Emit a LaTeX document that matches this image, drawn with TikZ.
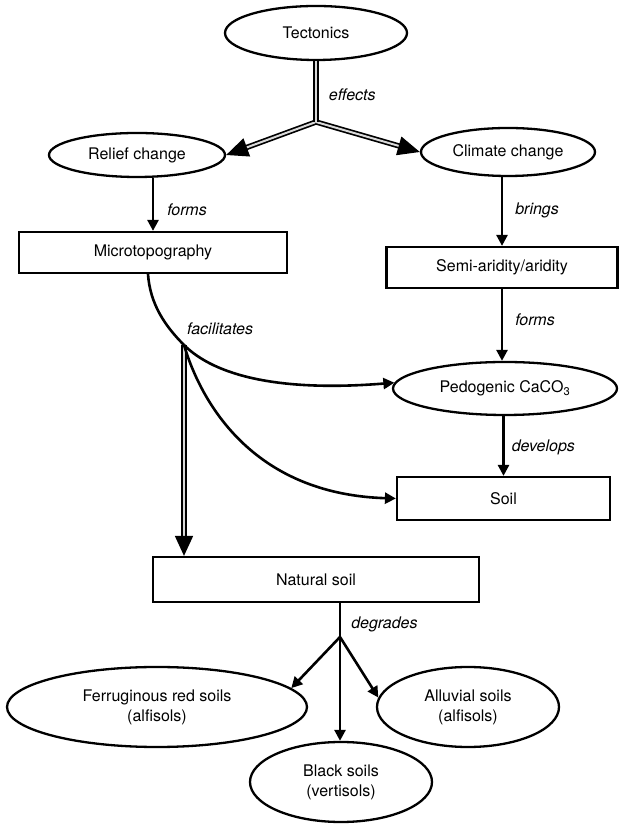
\documentclass[tikz,border=0pt]{standalone}
\usepackage{fontspec}
\setmainfont{TeX Gyre Heros}
\usetikzlibrary{positioning, shapes.geometric, arrows.meta}

\begin{document}
\begin{tikzpicture}[x=1pt, y=1pt,
    every node/.style={font=\fontsize{16}{20}\selectfont},
    bx/.style={draw, line width=2.2pt, inner sep=0pt, align=center},
    ov/.style={draw, ellipse, line width=2.3pt, inner sep=0pt, align=center},
    lb/.style={font=\fontsize{16}{20}\selectfont\itshape, inner sep=0pt},
    ar/.style={line width=2.6pt, -{Triangle[length=11pt, width=11pt]}},
    dbl/.style={double=gray!30, double distance=2pt, line width=1.7pt}]
  \useasboundingbox (0,0) rectangle (618,824);
  % causes
  \node[ov, minimum width=182pt, minimum height=54pt] (tec) at (316,791) {Tectonics};
  \node[ov, minimum width=176pt, minimum height=44pt] (rel) at (137,669) {Relief change};
  \node[ov, minimum width=174pt, minimum height=48pt] (cli) at (508,672) {Climate change};
  \node[bx, minimum width=268pt, minimum height=41pt] (mic) at (153,571.5) {Microtopography};
  \node[bx, minimum width=231pt, minimum height=41pt] (sem) at (502,556.5) {Semi-aridity/aridity};
  \node[ov, minimum width=224pt, minimum height=53pt] (ped) at (505,435.5) {Pedogenic CaCO\textsubscript{3}};
  \node[bx, minimum width=213pt, minimum height=43pt] (soil) at (503.5,325.5) {Soil};
  % soils
  \node[bx, minimum width=326pt, minimum height=45pt] (nat) at (316,244.5) {Natural soil};
  \node[ov, minimum width=300pt, minimum height=80pt] (fer) at (157,117) {Ferruginous red soils\\(alfisols)};
  \node[ov, minimum width=182pt, minimum height=80pt] (allu) at (468,117) {Alluvial soils\\(alfisols)};
  \node[ov, minimum width=182pt, minimum height=80pt] (blk) at (341,42) {Black soils\\(vertisols)};
  \coordinate (j1) at (316,702);
  \coordinate (j2) at (340,187);
  \coordinate (fc) at (184,479);
  % connectors
  \draw[dbl, -{Triangle[length=22pt, width=19pt]}] (j1) -- (rel.east);
  \draw[dbl, -{Triangle[length=22pt, width=19pt]}] (j1) -- (cli.west);
  \draw[dbl] (tec) -- (j1) node[lb, pos=0.55, right=12pt] (lef) {effects};
  \draw[ar] (rel.south -| mic.north) -- (mic.north) node[lb, pos=0.6, right=13pt] (lfo) {forms};
  \draw[ar] (cli.south -| sem.north) -- (sem.north) node[lb, pos=0.48, right=12pt] (lbr) {brings};
  \draw[ar] (sem.south) -- (sem.south |- ped.north) node[lb, pos=0.43, right=12pt] (lfo2) {forms};
  \draw[ar] (ped.south -| soil.north) -- (soil.north) node[lb, pos=0.52, right=7pt] (ldv) {develops};
  \draw[dbl, -{Triangle[length=20pt, width=18pt]}] (fc) -- (fc |- nat.north);
  \draw[line width=2.6pt] ([xshift=-5pt]mic.south) .. controls (150,520) and (165,498) .. (fc);
  \draw[ar] (fc) .. controls (215,448) and (280,432) .. (ped.177);
  \draw[ar] (fc) .. controls (200,425) and (250,330) .. (soil.west);
  \node[lb, above right=10pt and 3pt of fc] (lfa) {facilitates};
  \draw[line width=2.6pt] (nat.south -| j2) -- (j2) node[lb, pos=0.63, right=10pt] (ldg) {degrades};
  \draw[ar] (j2) -- (fer.8);
  \draw[ar] (j2) -- (allu.174);
  \draw[ar] (j2) -- (j2 |- blk.north);
\end{tikzpicture}
\end{document}
